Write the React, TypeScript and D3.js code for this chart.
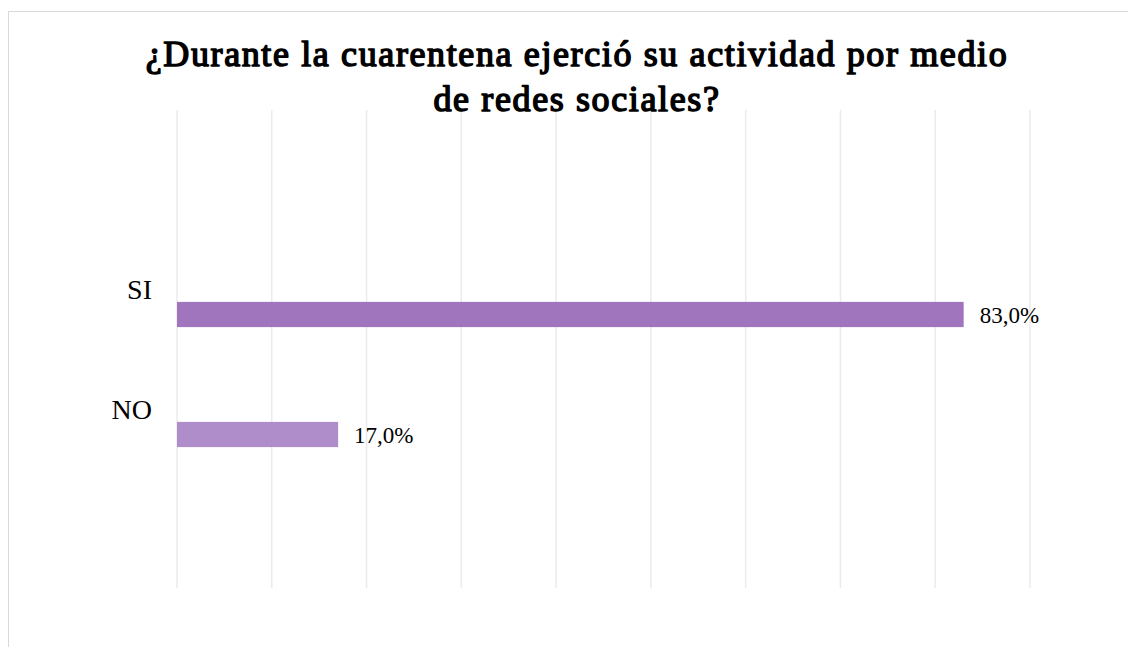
// src/App.tsx

import React, { useEffect, useRef } from 'react';
import * as d3 from 'd3';

const categories = ['SI', 'NO'];
const values = [0.83, 0.17];
const barColors = ['#9b6eba', '#ab87c8'];
const gridTicks = [0, 0.1, 0.2, 0.3, 0.4, 0.5, 0.6, 0.7, 0.8, 0.9];
const titleLines = ['¿Durante la cuarentena ejerció su actividad por medio', 'de redes sociales?'];

const BarChart: React.FC = () => {
  const svgRef = useRef<SVGSVGElement>(null);

  useEffect(() => {
    const width = 1128;
    const height = 647;
    const font = '"Liberation Serif", "Times New Roman", serif';

    const svg = d3.select(svgRef.current)
      .attr('width', width)
      .attr('height', height);
    svg.selectAll('*').remove();

    svg.append('rect')
      .attr('width', width)
      .attr('height', height)
      .attr('fill', '#fff');

    // chart frame (runs off the right and bottom edges)
    svg.append('rect')
      .attr('x', 8.5)
      .attr('y', 11.5)
      .attr('width', width + 20)
      .attr('height', height + 20)
      .attr('fill', 'none')
      .attr('stroke', '#d9d9d9')
      .attr('stroke-width', 1);

    const xScale = d3.scaleLinear()
      .domain([0, 0.9])
      .range([177, 1030]);

    const yScale = d3.scaleBand<string>()
      .domain(categories)
      .range([254.5, 494.5])
      .paddingInner(0.79)
      .paddingOuter(0.395);

    // vertical gridlines
    svg.append('g')
      .selectAll('line')
      .data(gridTicks)
      .enter()
      .append('line')
      .attr('x1', d => xScale(d))
      .attr('x2', d => xScale(d))
      .attr('y1', 110)
      .attr('y2', 588)
      .attr('stroke', '#ebebeb')
      .attr('stroke-width', 1.5);

    // title - no bold serif face installed, so thicken the regular one with a stroke
    const title = svg.append('text')
      .attr('font-family', font)
      .attr('font-size', 36)
      .attr('text-anchor', 'middle')
      .attr('fill', '#000')
      .attr('stroke', '#000')
      .attr('stroke-width', 1.5)
      .attr('stroke-linejoin', 'round');

    const tspans = title.selectAll('tspan')
      .data(titleLines)
      .enter()
      .append('tspan')
      .attr('x', 577)
      .attr('y', (d, i) => 66 + i * 45)
      .text(d => d);

    // widen spacing a little so the first line spans like the bold original (~861px)
    const first = tspans.nodes()[0] as SVGTSpanElement;
    const len = first.getComputedTextLength();
    const spacing = (861 - len) / (titleLines[0].length - 1);
    if (spacing > 0) title.attr('letter-spacing', spacing);

    // bars
    svg.append('g')
      .selectAll('rect')
      .data(categories)
      .enter()
      .append('rect')
      .attr('x', xScale(0))
      .attr('y', d => yScale(d) as number)
      .attr('width', (d, i) => xScale(values[i]) - xScale(0))
      .attr('height', yScale.bandwidth())
      .attr('fill', (d, i) => barColors[i])
      .attr('fill-opacity', 0.95);

    // category labels, sitting above-left of each bar
    svg.append('g')
      .selectAll('text')
      .data(categories)
      .enter()
      .append('text')
      .attr('x', 152)
      .attr('y', d => (yScale(d) as number) - 3)
      .attr('text-anchor', 'end')
      .attr('font-family', font)
      .attr('font-size', 28)
      .attr('fill', '#000')
      .text(d => d);

    // value labels
    const fmt = (v: number) => (v * 100).toFixed(1).replace('.', ',') + '%';
    svg.append('g')
      .selectAll('text')
      .data(categories)
      .enter()
      .append('text')
      .attr('x', (d, i) => xScale(values[i]) + 16)
      .attr('y', d => (yScale(d) as number) + yScale.bandwidth() / 2 + 8.5)
      .attr('font-family', font)
      .attr('font-size', 23)
      .attr('fill', '#000')
      .text((d, i) => fmt(values[i]));
  }, []);

  return (
    <svg ref={svgRef} style={{ position: 'absolute', left: 0, top: 0, display: 'block' }}></svg>
  );
};

const App: React.FC = () => {
  return (
    <div className="App">
      <BarChart />
    </div>
  );
};

export default App;
